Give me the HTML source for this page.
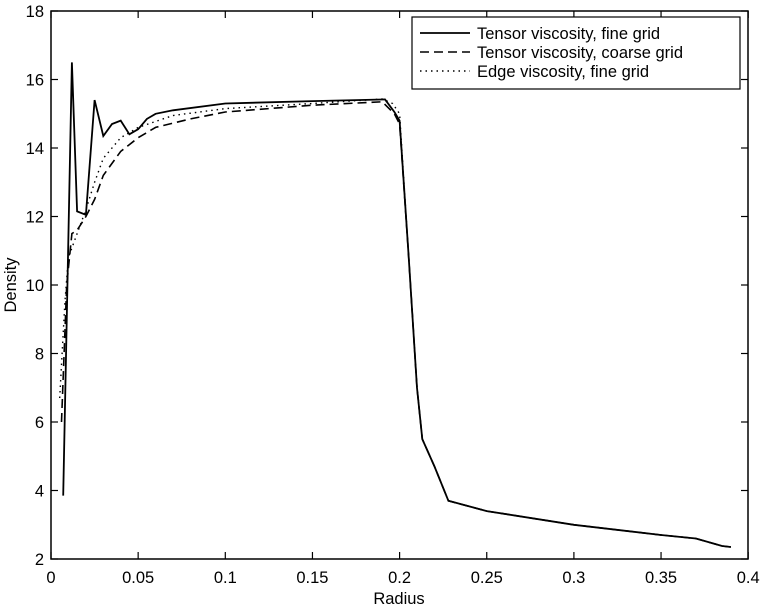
<!DOCTYPE html>
<html><head><meta charset="utf-8"><style>
body{margin:0;background:#fff}
svg text{font-family:"Liberation Sans",sans-serif;font-size:16.5px;fill:#000}
</style></head><body>
<svg id="s" width="762" height="609" xmlns="http://www.w3.org/2000/svg">
<rect x="51" y="11" width="697" height="548" fill="none" stroke="#000" stroke-width="1.5"/>
<g id="ticks" stroke="#000" stroke-width="1.2"></g>
<g id="labels"></g>
<g id="curves" fill="none" stroke="#000"></g>
<text x="399" y="604" text-anchor="middle">Radius</text>
<text transform="translate(16,285) rotate(-90)" text-anchor="middle">Density</text>
<rect x="412" y="17" width="328" height="72" fill="#fff" stroke="#000" stroke-width="1.2"/>
<line x1="420" y1="33" x2="470" y2="33" stroke="#000" stroke-width="1.8"/>
<line x1="420" y1="52" x2="470" y2="52" stroke="#000" stroke-width="1.6" stroke-dasharray="9,5"/>
<line x1="420" y1="71" x2="470" y2="71" stroke="#000" stroke-width="1.4" stroke-dasharray="1.5,4"/>
<text x="477" y="39">Tensor viscosity, fine grid</text>
<text x="477" y="58">Tensor viscosity, coarse grid</text>
<text x="477" y="77">Edge viscosity, fine grid</text>
</svg>
<script>
const px=r=>51+1743*r, py=d=>559-34.25*(d-2);
const NS="http://www.w3.org/2000/svg";
function el(t,a,p){const e=document.createElementNS(NS,t);for(const k in a)e.setAttribute(k,a[k]);document.getElementById(p).appendChild(e);return e;}
const xt=[0,0.05,0.1,0.15,0.2,0.25,0.3,0.35,0.4];
xt.forEach(v=>{const x=px(v);el('line',{x1:x,y1:559,x2:x,y2:552},'ticks');el('line',{x1:x,y1:11,x2:x,y2:18},'ticks');
 const t=el('text',{x:x,y:583,'text-anchor':'middle'},'labels');t.textContent=String(v);});
for(let d=2;d<=18;d+=2){const y=py(d);el('line',{x1:51,y1:y,x2:58,y2:y},'ticks');el('line',{x1:748,y1:y,x2:741,y2:y},'ticks');
 const t=el('text',{x:44,y:y+6,'text-anchor':'end'},'labels');t.textContent=String(d);}
const tail=[[0.205,11],[0.21,7],[0.213,5.5],[0.22,4.7],[0.228,3.7],[0.25,3.4],[0.3,3.0],[0.35,2.7],[0.37,2.6],[0.385,2.38],[0.39,2.35]];
const solid=[[0.007,3.85],[0.012,16.5],[0.015,12.15],[0.02,12.05],[0.025,15.4],[0.03,14.35],[0.035,14.7],[0.04,14.8],[0.045,14.4],[0.05,14.55],[0.055,14.85],[0.06,15.0],[0.07,15.1],[0.1,15.3],[0.15,15.37],[0.1916,15.42],[0.197,15.05],[0.2,14.8]].concat(tail);
const dashed=[[0.006,6],[0.009,10],[0.012,11.5],[0.015,11.6],[0.02,12.0],[0.025,12.5],[0.03,13.2],[0.04,13.9],[0.05,14.3],[0.06,14.6],[0.08,14.85],[0.1,15.05],[0.15,15.25],[0.19,15.35],[0.197,15.0],[0.2,14.7]].concat(tail);
const dotted=[[0.005,6.7],[0.008,9.5],[0.01,10.8],[0.015,11.5],[0.02,12.2],[0.025,13.0],[0.03,13.7],[0.04,14.3],[0.05,14.6],[0.07,14.95],[0.1,15.15],[0.15,15.3],[0.19,15.43],[0.196,15.3],[0.2,15.0]].concat(tail);
const pts=a=>a.map(p=>px(p[0]).toFixed(1)+','+py(p[1]).toFixed(1)).join(' ');
el('polyline',{points:pts(dotted),'stroke-width':1.4,'stroke-dasharray':'1.5,4'},'curves');
el('polyline',{points:pts(dashed),'stroke-width':1.6,'stroke-dasharray':'9,5'},'curves');
el('polyline',{points:pts(solid),'stroke-width':1.8},'curves');
</script>
</body></html>
